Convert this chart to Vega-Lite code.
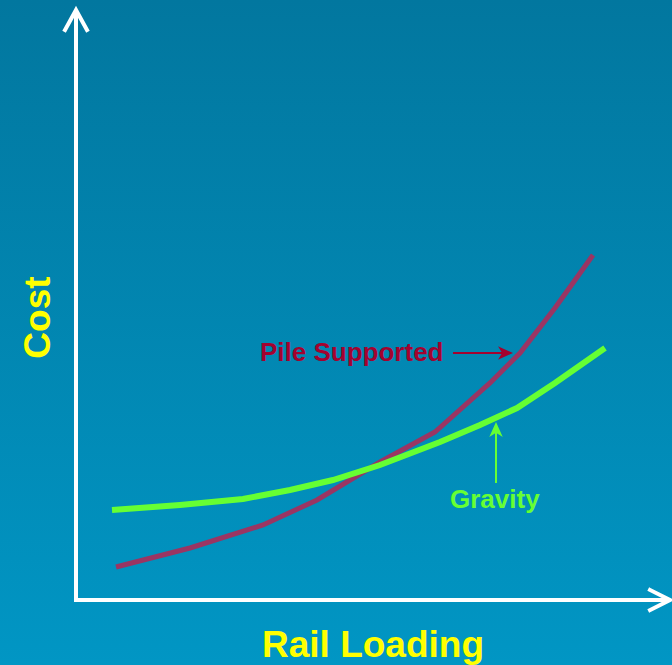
{
  "$schema": "https://vega.github.io/schema/vega-lite/v6.json",
  "autosize": {"type": "none"},
  "width": 672,
  "height": 665,
  "padding": 0,
  "background": "#0186b2",
  "config": {"view": {"stroke": null}, "font": "Liberation Sans"},
  "datasets": {
    "pile": [
      {"load": 6.67, "cost": 5.5},
      {"load": 19.0, "cost": 8.67},
      {"load": 31.17, "cost": 12.5},
      {"load": 40.17, "cost": 16.67},
      {"load": 50.67, "cost": 23.0},
      {"load": 59.83, "cost": 28.0},
      {"load": 69.0, "cost": 36.17},
      {"load": 74.0, "cost": 41.17},
      {"load": 79.83, "cost": 48.67},
      {"load": 86.17, "cost": 57.5}
    ],
    "gravity": [
      {"load": 6.0, "cost": 15.0},
      {"load": 17.33, "cost": 15.83},
      {"load": 27.83, "cost": 16.83},
      {"load": 35.67, "cost": 18.33},
      {"load": 42.83, "cost": 20.0},
      {"load": 50.67, "cost": 22.5},
      {"load": 60.67, "cost": 26.33},
      {"load": 67.33, "cost": 29.17},
      {"load": 73.5, "cost": 32.0},
      {"load": 79.83, "cost": 36.17},
      {"load": 88.17, "cost": 42.0}
    ],
    "axes": [
      {"part": "y", "seq": 0, "load": 0, "cost": 0},
      {"part": "y", "seq": 1, "load": 0, "cost": 98.0},
      {"part": "x", "seq": 0, "load": 0, "cost": 0},
      {"part": "x", "seq": 1, "load": 98.7, "cost": 0},
      {"part": "yhead", "seq": 0, "load": -1.83, "cost": 95.0},
      {"part": "yhead", "seq": 1, "load": 0, "cost": 98.33},
      {"part": "yhead", "seq": 2, "load": 1.83, "cost": 95.0},
      {"part": "xhead", "seq": 0, "load": 95.67, "cost": 1.67},
      {"part": "xhead", "seq": 1, "load": 99.0, "cost": 0},
      {"part": "xhead", "seq": 2, "load": 95.67, "cost": -1.67}
    ],
    "pileArrow": [
      {"load": 62.83, "cost": 41.17},
      {"load": 71.5, "cost": 41.17}
    ],
    "gravityArrow": [
      {"load": 70.0, "cost": 19.5},
      {"load": 70.0, "cost": 28.3}
    ],
    "heads": [
      {"series": "Pile Supported", "load": 72.83, "cost": 41.17, "dir": 0},
      {"series": "Gravity", "load": 70.0, "cost": 29.67, "dir": 270}
    ],
    "labels": [
      {"label": "Pile Supported", "load": 30.67, "cost": 39.83, "series": "Pile Supported"},
      {"label": "Gravity", "load": 62.33, "cost": 15.33, "series": "Gravity"}
    ]
  },
  "layer": [
    {
      "data": {"values": [{}]},
      "mark": {
        "type": "rect",
        "color": {
          "gradient": "linear",
          "x1": 0, "y1": 0, "x2": 0, "y2": 1,
          "stops": [
            {"offset": 0, "color": "#02779f"},
            {"offset": 1, "color": "#0196c4"}
          ]
        }
      },
      "encoding": {
        "x": {"datum": -12.667, "type": "quantitative", "scale": {"domain": [-12.667, 99.333], "nice": false, "zero": false}, "axis": null},
        "x2": {"datum": 99.333},
        "y": {"datum": -10.833, "type": "quantitative", "scale": {"domain": [-10.833, 100], "nice": false, "zero": false}, "axis": null},
        "y2": {"datum": 100}
      }
    },
    {
      "data": {"name": "axes"},
      "mark": {"type": "line", "color": "white", "strokeWidth": 4, "strokeCap": "square", "strokeJoin": "miter"},
      "encoding": {
        "x": {"field": "load", "type": "quantitative"},
        "y": {"field": "cost", "type": "quantitative"},
        "detail": {"field": "part"},
        "order": {"field": "seq"}
      }
    },
    {
      "data": {"name": "pile"},
      "mark": {"type": "line", "color": "#9a3563", "strokeWidth": 5, "strokeCap": "butt"},
      "encoding": {
        "x": {"field": "load", "type": "quantitative"},
        "y": {"field": "cost", "type": "quantitative"}
      }
    },
    {
      "data": {"name": "gravity"},
      "mark": {"type": "line", "color": "#66ff33", "strokeWidth": 6, "strokeCap": "butt"},
      "encoding": {
        "x": {"field": "load", "type": "quantitative"},
        "y": {"field": "cost", "type": "quantitative"}
      }
    },
    {
      "data": {"name": "pileArrow"},
      "mark": {"type": "line", "color": "#a3022f", "strokeWidth": 2},
      "encoding": {
        "x": {"field": "load", "type": "quantitative"},
        "y": {"field": "cost", "type": "quantitative"}
      }
    },
    {
      "data": {"name": "gravityArrow"},
      "mark": {"type": "line", "color": "#66ff33", "strokeWidth": 2},
      "encoding": {
        "x": {"field": "load", "type": "quantitative"},
        "y": {"field": "cost", "type": "quantitative"}
      }
    },
    {
      "data": {"name": "heads"},
      "mark": {"type": "point", "filled": true, "opacity": 1, "size": 225, "shape": "M0,0L-2,-0.9L-1.45,0L-2,0.9Z"},
      "encoding": {
        "x": {"field": "load", "type": "quantitative"},
        "y": {"field": "cost", "type": "quantitative"},
        "angle": {"field": "dir", "type": "quantitative", "scale": null},
        "color": {"field": "series", "type": "nominal", "scale": {"domain": ["Pile Supported", "Gravity"], "range": ["#a3022f", "#66ff33"]}, "legend": null}
      }
    },
    {
      "data": {"name": "labels"},
      "mark": {"type": "text", "align": "left", "baseline": "alphabetic", "fontSize": 26, "fontWeight": "bold", "font": "Liberation Sans"},
      "encoding": {
        "x": {"field": "load", "type": "quantitative"},
        "y": {"field": "cost", "type": "quantitative"},
        "text": {"field": "label"},
        "color": {"field": "series", "type": "nominal", "scale": {"domain": ["Pile Supported", "Gravity"], "range": ["#a3022f", "#66ff33"]}, "legend": null}
      }
    },
    {
      "data": {"values": [{"title": "Rail Loading", "load": 49.5, "cost": -9.5}]},
      "mark": {"type": "text", "align": "center", "baseline": "alphabetic", "fontSize": 37, "fontWeight": "bold", "color": "#ffff00", "font": "Liberation Sans"},
      "encoding": {
        "x": {"field": "load", "type": "quantitative"},
        "y": {"field": "cost", "type": "quantitative"},
        "text": {"field": "title"}
      }
    },
    {
      "data": {"values": [{"title": "Cost", "load": -4.33, "cost": 47.08}]},
      "mark": {"type": "text", "align": "center", "baseline": "alphabetic", "angle": 270, "fontSize": 37, "fontWeight": "bold", "color": "#ffff00", "font": "Liberation Sans"},
      "encoding": {
        "x": {"field": "load", "type": "quantitative"},
        "y": {"field": "cost", "type": "quantitative"},
        "text": {"field": "title"}
      }
    }
  ]
}
